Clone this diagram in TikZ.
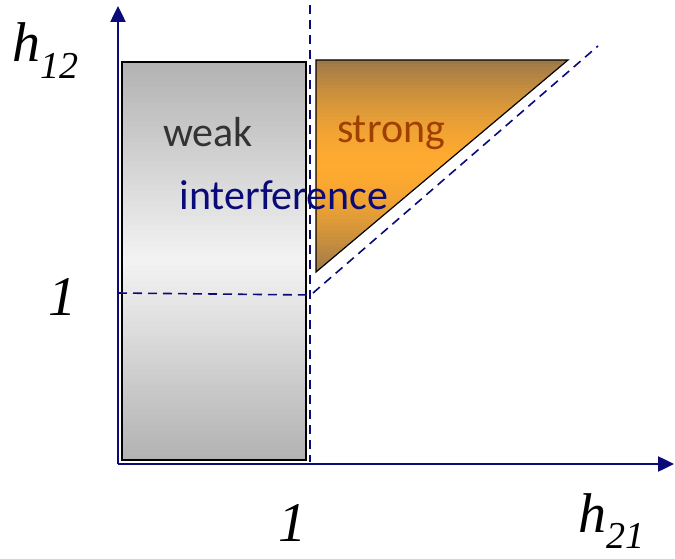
\documentclass[tikz,border=0pt]{standalone}
\usepackage{fontspec}
\setmainfont{Liberation Serif}
\newfontfamily\calfont{Carlito}
\usetikzlibrary{arrows.meta}
\definecolor{navy}{RGB}{10,10,120}
\definecolor{boxgray}{RGB}{178,178,178}
\definecolor{boxlight}{RGB}{243,243,243}
\definecolor{tribrown}{RGB}{155,120,72}
\definecolor{triorange}{RGB}{255,170,48}
\definecolor{strongtxt}{RGB}{160,64,0}

\begin{document}
\begin{tikzpicture}[
      x=1pt, y=1pt,
      axis/.style={navy, line width=2.5pt, -{Triangle[width=15pt,length=16pt]}},
      guide/.style={navy, line width=1.6pt, dash pattern=on 9pt off 6pt},
      word/.style={font=\calfont\fontsize{42}{46}\selectfont, anchor=base, inner sep=0pt},
      mlabel/.style={font=\fontsize{56}{60}\selectfont, anchor=base, inner sep=0pt}
    ]
    \useasboundingbox (0,0) rectangle (675,558);
    % weak region, light in the middle
    \begin{scope}
      \clip (122,98) rectangle (306,496);
      \foreach \i in {0,...,79}{
        \pgfmathsetmacro\pct{100*(1-abs(2*(\i+0.5)/80-1))}
        \pgfmathsetmacro\ylo{98+\i*4.975}
        \fill[boxlight!\pct!boxgray] (122,\ylo) rectangle (306,\ylo+5.6);
      }
    \end{scope}
    \draw[black, line width=1.2pt] (122,98) rectangle (306,496);
    % strong region, orange in the middle
    \begin{scope}
      \clip (316,498) -- (568,498) -- (316,286) -- cycle;
      \foreach \i in {0,...,59}{
        \pgfmathsetmacro\pct{100*(1-abs(2*(\i+0.5)/60-1)^1.7)}
        \pgfmathsetmacro\ylo{286+\i*3.5333}
        \fill[triorange!\pct!tribrown] (316,\ylo) rectangle (568,\ylo+4.2);
      }
    \end{scope}
    \draw[black, line width=1.2pt] (316,498) -- (568,498) -- (316,286) -- cycle;
    % guides
    \coordinate (vtop) at (310,553);
    \coordinate (vbot) at (310,96);
    \coordinate (hl) at (118,265);
    \coordinate (hr) at (310,263);
    \coordinate (dlow) at (313,265);
    \coordinate (dhigh) at (598,512);
    \draw[guide] (vtop) -- (vbot);
    \draw[guide] (hl) -- (hr);
    \draw[guide] (dlow) -- (dhigh);
    % axes
    \coordinate (o) at (118,94);
    \coordinate (ytip) at (118,552);
    \coordinate (xtip) at (674,94);
    \draw[axis] (o) -- (ytip);
    \draw[axis] (o) -- (xtip);
    % texts
    \node[word, text=black!80] (weak) at (208,411) {weak};
    \node[word, text=strongtxt] (strong) at (391,415) {strong};
    \node[word, text=navy] (interf) at (284,348) {interference};
    \node[mlabel] (h12) at (46,496) {\textit{h}\textsubscript{\fontsize{38}{40}\selectfont\textit{12}}};
    \node[mlabel] (one12) at (62,243) {\textit{1}};
    \node[mlabel] (one21) at (292,17) {\textit{1}};
    \node[mlabel] (h21) at (612,26) {\textit{h}\textsubscript{\fontsize{38}{40}\selectfont\textit{21}}};
\end{tikzpicture}
\end{document}
